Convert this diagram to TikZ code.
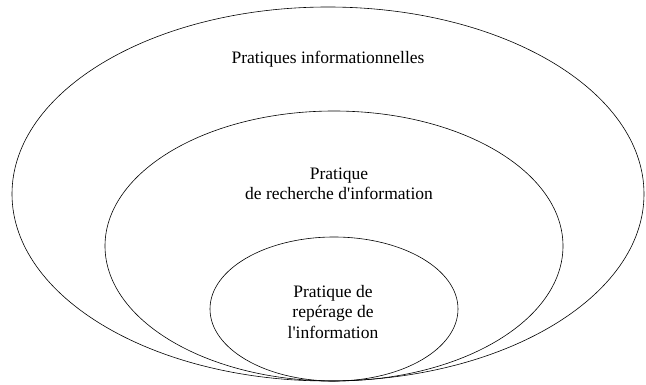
\documentclass[tikz,border=0pt]{standalone}
\usepackage{fontspec}
\setmainfont{Liberation Serif}
\usetikzlibrary{shapes.geometric}
\begin{document}
\begin{tikzpicture}[x=1pt,y=-1pt,
        esty/.style={ellipse,draw,line width=0.6pt,inner sep=0pt},
        tsty/.style={align=center,font=\fontsize{17.5}{20.5}\selectfont},
    ]
    \useasboundingbox (0,0) rectangle (646,385);
    % nested practices
    \node (outer) at (328,194) [esty,minimum width=632pt,minimum height=374pt] {};
    \node (middle) at (334,246) [esty,minimum width=458pt,minimum height=270pt] {};
    \node (inner) at (334,309) [esty,minimum width=248pt,minimum height=144pt] {};
    \node (touter) at (328,59) [tsty] {Pratiques informationnelles};
    \node (tmiddle) at (339,184) [tsty] {Pratique\\de recherche d\textquotesingle information};
    \node (tinner) at (333,312) [tsty] {Pratique de\\repérage de\\l\textquotesingle information};
\end{tikzpicture}
\end{document}
